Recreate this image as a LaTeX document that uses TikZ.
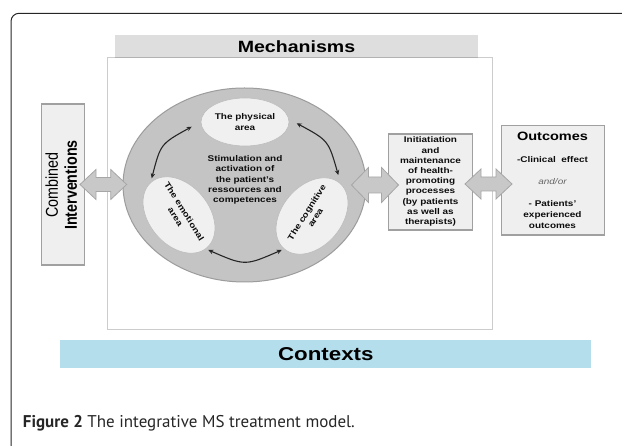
\documentclass[tikz,border=0pt]{standalone}
\usepackage{fontspec}
\setmainfont{Liberation Sans}[FakeStretch=1.2]
\newfontfamily\plainsans{Liberation Sans}
\newfontfamily\capfont{PT Sans}
\usetikzlibrary{arrows.meta,shapes.geometric}
\definecolor{circfill}{HTML}{C4C4C4}
\definecolor{circline}{HTML}{9C9C9C}
\definecolor{ellfill}{HTML}{F0F0F0}
\definecolor{ellline}{HTML}{BDBDBD}
\definecolor{boxfill}{HTML}{EFEFEF}
\definecolor{boxline}{HTML}{A0A0A0}
\definecolor{arrfill}{HTML}{C8C8C8}
\definecolor{arrline}{HTML}{A6A6A6}
\definecolor{hdrfill}{HTML}{DEDEDE}
\definecolor{ctxfill}{HTML}{B4DEEC}
\definecolor{mechline}{HTML}{CCCCCC}
\definecolor{captxt}{HTML}{262626}
\newcommand{\mydblarrow}[6]{%
  \draw[blockarr] (#1,#3) -- (#1+#6,#3-#4) -- (#1+#6,#3-#5) -- (#2-#6,#3-#5) -- (#2-#6,#3-#4) -- (#2,#3) -- (#2-#6,#3+#4) -- (#2-#6,#3+#5) -- (#1+#6,#3+#5) -- (#1+#6,#3+#4) -- cycle;}
\begin{document}
\begin{tikzpicture}[x=1pt,y=-1pt,
  smalltxt/.style={font=\fontsize{8.3}{10.2}\selectfont\bfseries, align=center, inner sep=0pt, text=black!95},
  graybox/.style={draw=boxline, line width=1.1pt, fill=boxfill, inner sep=0pt},
  areaell/.style={ellipse, draw=ellline, line width=0.6pt, fill=ellfill, inner sep=0pt},
  blockarr/.style={draw=arrline, line width=0.8pt, fill=arrfill, line join=miter},
  curv/.style={{Stealth[length=5pt,width=4.5pt]}-{Stealth[length=5pt,width=4.5pt]}, line width=1.1pt, draw=black!85}]
\useasboundingbox (0,0) rectangle (622,446);
% outer frame
\draw[line width=1pt, draw=black!85, rounded corners=8pt] (11,470) -- (11,13.3) -- (650,13.3);
% mechanisms box and header
\node[draw=mechline, line width=0.8pt, fill=white, minimum width=384.7pt, minimum height=271.6pt, inner sep=0pt] (mech) at (299.65,193.5) {};
\node[fill=hdrfill, minimum width=363pt, minimum height=22.7pt, inner sep=0pt, font=\fontsize{16.3}{18}\selectfont\bfseries] (mechhdr) at (296.5,46.35) {Mechanisms};
\draw[draw=black!30, line width=0.8pt] (mechhdr.south west) -- (mechhdr.south east);
% big ellipse
\node[ellipse, draw=circline, line width=1pt, fill=circfill, minimum width=243pt, minimum height=194pt, inner sep=0pt] (circ) at (244.5,185) {};
% areas
\node[areaell, minimum width=88pt, minimum height=48pt] (phys) at (245,122) {};
\node[smalltxt] (physT) at (245,122) {The physical\\area};
\node[areaell, minimum width=86pt, minimum height=60pt, rotate=-50] (emo) at (179,215) {};
\node[smalltxt, rotate=-58] (emoT) at (180,214) {The emotional\\area};
\node[areaell, minimum width=86pt, minimum height=60pt, rotate=50] (cog) at (312,216) {};
\node[smalltxt, rotate=58] (cogT) at (311,215) {The cognitive\\area};
\node[smalltxt] (stim) at (245,180) {Stimulation and\\activation of\\the patient's\\ressources and\\competences};
% curved double arrows
\coordinate (ulA) at (151.7,178.3);
\coordinate (ulB) at (191.7,126.7);
\draw[curv] (ulA) .. controls (160.6,143.9) .. (ulB);
\coordinate (urA) at (296.7,123.3);
\coordinate (urB) at (338.3,175);
\draw[curv] (urA) .. controls (328.4,140.4) .. (urB);
\coordinate (bA) at (208.3,250);
\coordinate (bB) at (281.7,250);
\draw[curv] (bA) .. controls (245,266) .. (bB);
% interventions box
\node[graybox, minimum width=42.8pt, minimum height=161pt] (interv) at (63.1,184.5) {};
\node[rotate=90, inner sep=0pt] (intervT) at (63.5,185) {\scalebox{1}[1.2]{\plainsans\fontsize{14.3}{15.8}\selectfont\begin{tabular}{@{}c@{}}Combined\\\textbf{Interventions}\end{tabular}}};
% initiation box
\node[graybox, minimum width=84.4pt, minimum height=96pt] (init) at (430.5,182) {};
\node[smalltxt] (initT) at (430.5,181.5) {Initiatiation\\and\\maintenance\\of health-\\promoting\\processes\\(by patients\\as well as\\therapists)};
% outcomes box
\node[graybox, minimum width=102.6pt, minimum height=109.3pt] (outc) at (553,180.35) {};
\node[inner sep=0pt, font=\fontsize{12.1}{14}\selectfont\bfseries] (outcT) at (552.5,136.5) {Outcomes};
\node[smalltxt] (clin) at (552.5,160) {-Clinical\ \ effect};
\node[inner sep=0pt, font=\fontsize{8.3}{10}\selectfont\itshape, text=black!60] (andor) at (552.5,181.7) {and/or};
\node[smalltxt, font=\fontsize{8.3}{11}\selectfont\bfseries] (pat) at (552.5,214.3) {- Patients'\\experienced\\outcomes};
% block arrows
\mydblarrow{80}{126.7}{184.5}{15}{7}{16}
\mydblarrow{351.5}{398.5}{185}{17.5}{8}{17}
\mydblarrow{465}{512}{184}{15}{7}{16}
% contexts
\node[fill=ctxfill, minimum width=531pt, minimum height=28.3pt, inner sep=0pt, font=\fontsize{18.6}{20}\selectfont\bfseries] (ctx) at (325.8,354.15) {Contexts};
% caption
\node[anchor=west, inner sep=0pt, text=captxt, font=\capfont\fontsize{17}{19}\selectfont] (cap) at (22.7,423) {\textbf{Figure 2} The integrative MS treatment model.};
\end{tikzpicture}
\end{document}
